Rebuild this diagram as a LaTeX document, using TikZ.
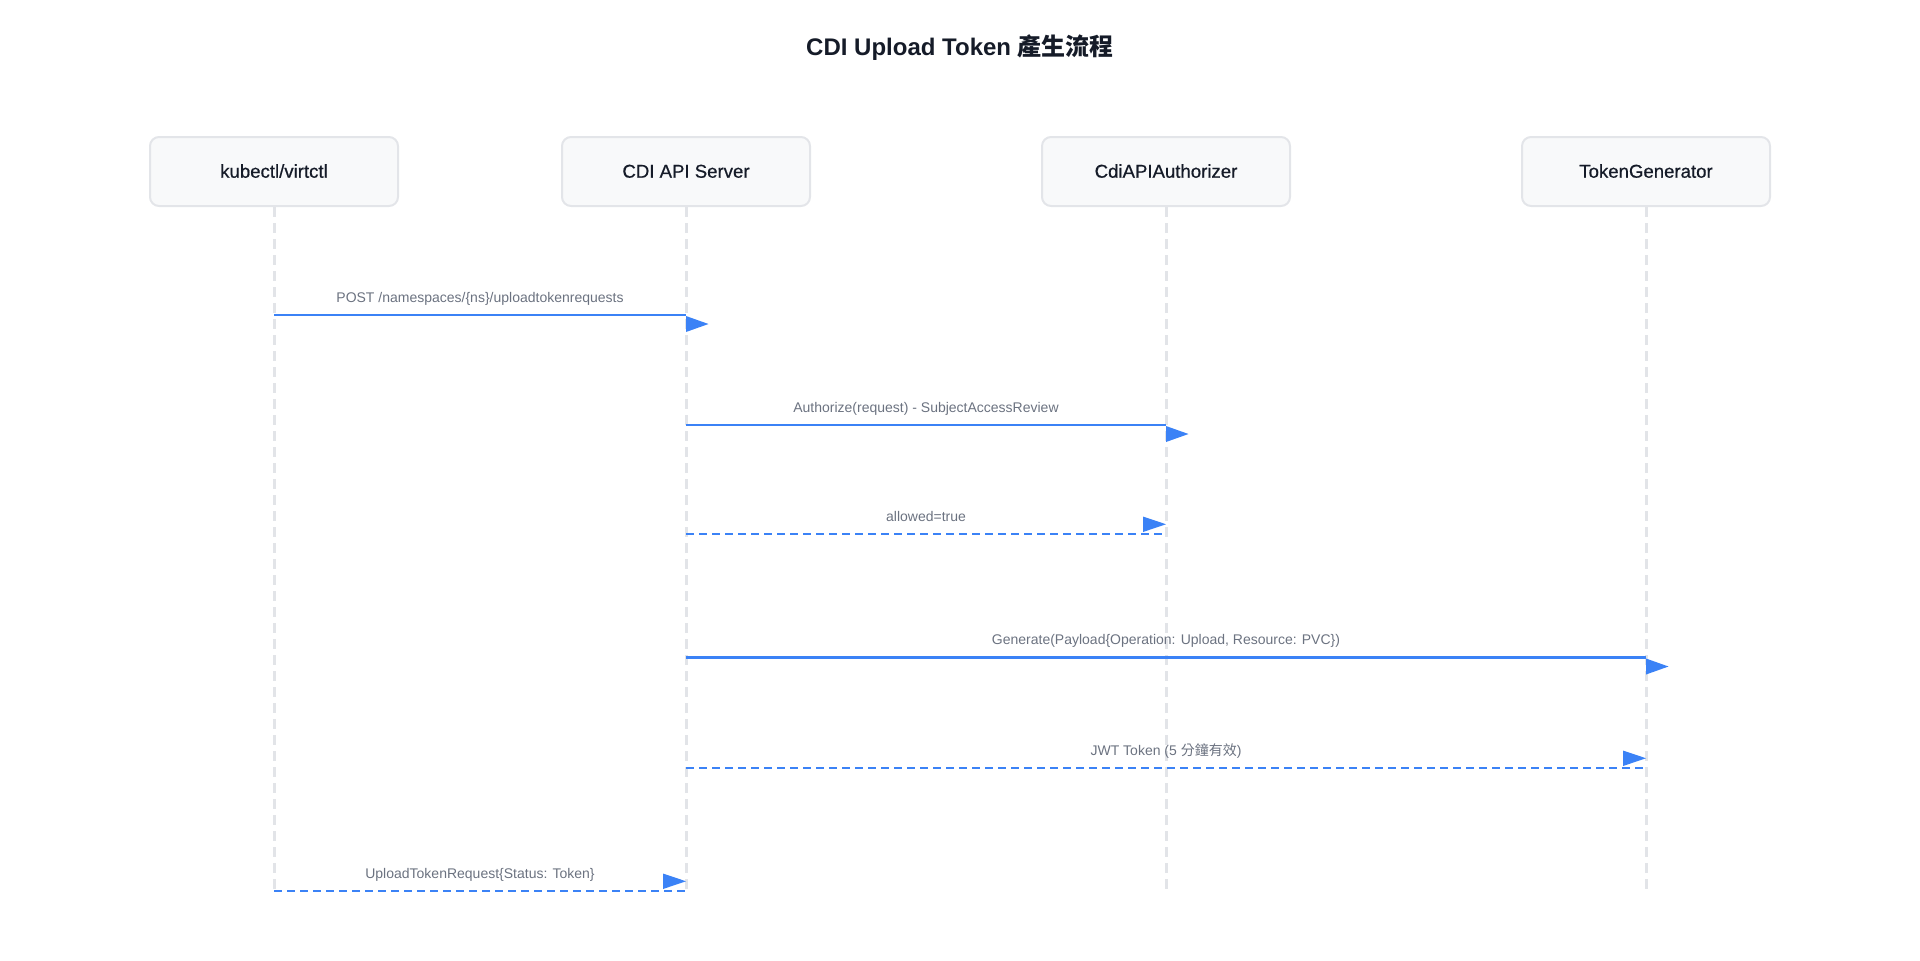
\documentclass[tikz,border=0pt]{standalone}
\usepackage{fontspec}
\usetikzlibrary{calc}
\setmainfont{Liberation Sans}
\newfontfamily\cjk{Noto Sans CJK TC}
\newfontfamily\actorfont[RawFeature={embolden=0.6}]{Liberation Sans}
\definecolor{arrowblue}{HTML}{3B82F6}
\definecolor{labelgray}{HTML}{6B7280}
\definecolor{boxborder}{HTML}{E3E5E9}
\definecolor{boxfill}{HTML}{F8F9FA}
\definecolor{lifegray}{HTML}{E2E4E8}
\definecolor{darktext}{HTML}{151B28}
\tikzset{
  titletext/.style={anchor=base, inner sep=0pt, text=darktext, font=\fontsize{12}{14}\selectfont\bfseries},
  actor/.style={draw=boxborder, line width=1pt, fill=boxfill, rounded corners=4.5pt,
    minimum width=124pt, minimum height=34.5pt, inner sep=0pt, text=darktext,
    text height=6.9pt, text depth=0.7pt,
    font=\actorfont\fontsize{9.3}{11}\selectfont},
  lifeline/.style={draw=lifegray, line width=1.5pt, dash pattern=on 5pt off 3pt},
  msg/.style={draw=arrowblue, line width=1.35pt},
  ret/.style={draw=arrowblue, line width=1.35pt, dash pattern=on 4pt off 2.5pt},
  msglabel/.style={anchor=base, inner sep=0pt, text=labelgray, font=\fontsize{7}{8}\selectfont},
  headfill/.style={fill=arrowblue},
}
\begin{document}
\begin{tikzpicture}[x=0.5pt,y=-0.5pt]
\useasboundingbox (0,0) rectangle (1920,960);
\node[titletext] (title) at (960,55) {CDI Upload Token {\cjk 產生流程}};

\node[actor] (a) at (274,171.5) {kubectl/virtctl};
\node[actor] (b) at (686,171.5) {CDI API Server};
\node[actor] (c) at (1166,171.5) {CdiAPIAuthorizer};
\node[actor] (d) at (1646,171.5) {TokenGenerator};

\foreach \n in {a,b,c,d}{
  \coordinate (\n end) at (\n |- 0,892);
  \draw[lifeline] (\n.south) -- (\n end);
}

% message 1
\coordinate (m1s) at (a |- 0,315);
\coordinate (m1e) at (b |- 0,315);
\draw[msg] (m1s) -- (m1e);
\fill[headfill] ([yshift=-0.5pt]m1e) -- ++(0,16) -- ++(22.5,-8) -- cycle;
\node[msglabel] (l1) at ($(m1s)!0.5!(m1e)+(0,-13)$) {POST /namespaces/\{ns\}/uploadtokenrequests};

% message 2
\coordinate (m2s) at (b |- 0,425);
\coordinate (m2e) at (c |- 0,425);
\draw[msg] (m2s) -- (m2e);
\fill[headfill] ([yshift=-0.5pt]m2e) -- ++(0,16) -- ++(22.5,-8) -- cycle;
\node[msglabel] (l2) at ($(m2s)!0.5!(m2e)+(0,-13)$) {Authorize(request) - SubjectAccessReview};

% message 3 (return)
\coordinate (m3s) at (b |- 0,534);
\coordinate (m3e) at (c |- 0,534);
\draw[ret] (m3s) -- (m3e);
\fill[headfill] ([shift={(-23,-17.5)}]m3e) -- ++(0,15.5) -- ++(23,-7.75) -- cycle;
\node[msglabel] (l3) at ($(m3s)!0.5!(m3e)+(0,-13)$) {allowed=true};

% message 4
\coordinate (m4s) at (b |- 0,657.5);
\coordinate (m4e) at (d |- 0,657.5);
\draw[msg] (m4s) -- (m4e);
\fill[headfill] ([yshift=-0.5pt]m4e) -- ++(0,16) -- ++(22.5,-8) -- cycle;
\node[msglabel] (l4) at ($(m4s)!0.5!(m4e)+(0,-13)$) {Generate(Payload\{Operation: Upload, Resource: PVC\})};

% message 5 (return)
\coordinate (m5s) at (b |- 0,768);
\coordinate (m5e) at (d |- 0,768);
\draw[ret] (m5s) -- (m5e);
\fill[headfill] ([shift={(-23,-17.5)}]m5e) -- ++(0,15.5) -- ++(23,-7.75) -- cycle;
\node[msglabel] (l5) at ($(m5s)!0.5!(m5e)+(0,-13)$) {JWT Token (5 {\cjk 分鐘有效})};

% message 6 (return)
\coordinate (m6s) at (a |- 0,891);
\coordinate (m6e) at (b |- 0,891);
\draw[ret] (m6s) -- (m6e);
\fill[headfill] ([shift={(-23,-17.5)}]m6e) -- ++(0,15.5) -- ++(23,-7.75) -- cycle;
\node[msglabel] (l6) at ($(m6s)!0.5!(m6e)+(0,-13)$) {UploadTokenRequest\{Status: Token\}};
\end{tikzpicture}
\end{document}
